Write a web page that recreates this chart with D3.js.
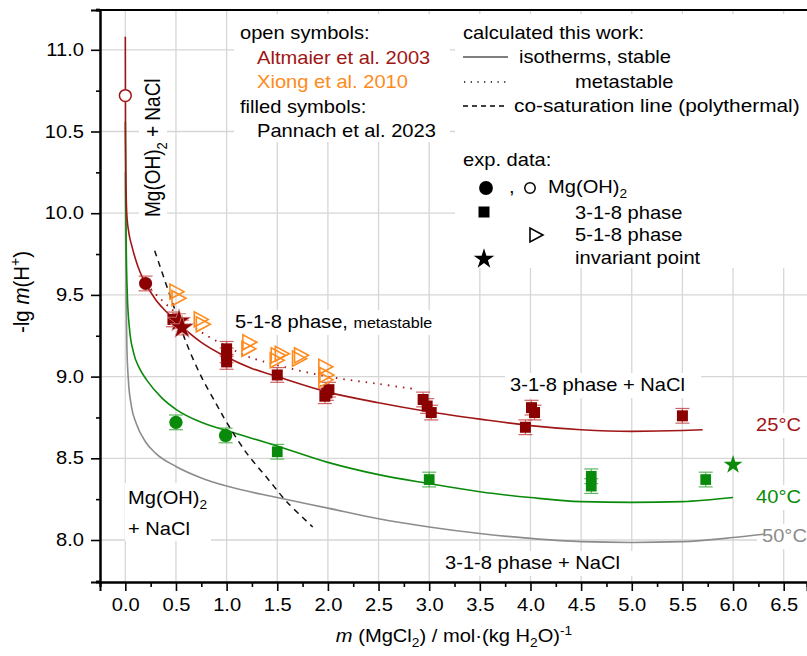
<!DOCTYPE html>
<html><head><meta charset="utf-8">
<script src="https://cdn.jsdelivr.net/npm/d3@7"></script>
<style>
html,body{margin:0;padding:0;background:#fff;}
svg{display:block;font-family:"Liberation Sans",Arial,sans-serif;}
</style></head>
<body><svg id="c" width="807" height="656"></svg>
<script>
// ---------- data ----------
const xTicks = [0,0.5,1,1.5,2,2.5,3,3.5,4,4.5,5,5.5,6,6.5];
const yTicks = [8.0,8.5,9.0,9.5,10.0,10.5,11.0];
const xMinor = d3.range(-0.25, 6.8, 0.5);
const yMinor = d3.range(7.75, 11.3, 0.5);

// calculated isotherms (stable)
const iso25 = [[0,11.08],[0.002,10.5],[0.006,10.2],[0.014,10.0],[0.035,9.88],[0.064,9.8],[0.1,9.72],[0.145,9.64],[0.2,9.57],[0.3,9.47],[0.4,9.40],[0.5,9.34],[0.75,9.21],[1.0,9.12],[1.25,9.05],[1.5,9.0],[2.0,8.905],[2.5,8.84],[3.0,8.785],[3.5,8.74],[4.0,8.70],[4.5,8.675],[5.0,8.665],[5.5,8.67],[5.7,8.675]];
const iso40 = [[0,10.56],[0.004,10.1],[0.01,9.75],[0.02,9.5],[0.04,9.3],[0.08,9.15],[0.14,9.05],[0.21,8.98],[0.36,8.87],[0.5,8.80],[0.75,8.72],[1.0,8.67],[1.5,8.575],[2.0,8.475],[2.5,8.40],[3.0,8.345],[3.5,8.295],[4.0,8.26],[4.5,8.235],[5.0,8.23],[5.5,8.235],[6.0,8.26]];
const iso50 = [[0,10.25],[0.003,9.9],[0.008,9.5],[0.015,9.2],[0.03,8.98],[0.06,8.82],[0.11,8.71],[0.2,8.6],[0.3,8.53],[0.5,8.45],[0.75,8.38],[1.0,8.33],[1.5,8.26],[2.0,8.195],[2.5,8.13],[3.0,8.08],[3.5,8.04],[4.0,8.01],[4.5,7.99],[5.0,7.985],[5.5,7.99],[6.0,8.015],[6.3,8.035]];
// metastable 5-1-8 (25 °C)
const meta25 = [[0.2,9.57],[0.34,9.48],[0.5,9.39],[0.73,9.28],[1.0,9.185],[1.2,9.125],[1.5,9.07],[2.0,9.0],[2.5,8.955],[2.85,8.925]];
// co-saturation line (polythermal)
const cosat = [[0.29,9.77],[0.4,9.57],[0.5,9.39],[0.6,9.21],[0.75,9.0],[0.9,8.83],[1.0,8.72],[1.2,8.53],[1.4,8.38],[1.6,8.23],[1.85,8.08]];

// experimental data
const altmaierOH = [[0.0,10.72]];
const pannachOH25 = [[0.2,9.57]];
const pannachOH40 = [[0.5,8.72],[0.99,8.64]];
const pannach318_25 = [[0.47,9.35],[1.0,9.17],[1.0,9.13],[1.0,9.09],[1.5,9.01],[1.97,8.88],[1.99,8.90],[2.01,8.92],[2.94,8.86],[2.98,8.82],[3.02,8.78],[3.95,8.69],[4.01,8.81],[4.04,8.78],[5.5,8.76]];
const pannach318_40 = [[1.5,8.54],[3.0,8.37],[4.6,8.39],[4.6,8.33],[5.73,8.37]];
const invariant25 = [[0.53,9.34],[0.56,9.30]];
const invariant40 = [[6.0,8.46]];
const xiong518 = [[0.5,9.52],[0.52,9.48],[0.74,9.35],[0.76,9.32],[1.22,9.21],[1.21,9.17],[1.5,9.13],[1.54,9.14],[1.49,9.10],[1.73,9.13],[1.71,9.11],[1.97,9.06],[1.98,9.01],[1.97,8.98]];
const errY = 0.045;

// ---------- colors ----------
const RED = "#8b0000", REDL = "#a01515", GREEN = "#0a8a0a", GRAY = "#8c8c8c", ORANGE = "#ff8a1c";
const FS = 17.5, SX = 1.15;

const svg = d3.select("#c");
const x = d3.scaleLinear().domain([-0.25, 6.73]).range([100, 807]);
const y = d3.scaleLinear().domain([7.743, 11.2436]).range([582, 10]);

// text helper
function addText(parent, px, py, parts, o = {}) {
  const size = o.size || FS;
  const t = parent.append("text")
    .attr("transform", o.transform || `translate(${px},${py}) scale(${o.sx || SX},1)`)
    .attr("font-size", size)
    .attr("fill", o.fill || "#000")
    .attr("text-anchor", o.anchor || "start");
  let shift = 0;
  parts.forEach(p => {
    if (typeof p === "string") p = { t: p };
    const s = p.size || size;
    const ts = t.append("tspan").text(p.t);
    let target = 0, fsz = s;
    if (p.sub) { target = 0.3 * size; fsz = size * 0.68; }
    if (p.sup) { target = -0.4 * size; fsz = size * 0.68; }
    ts.attr("font-size", fsz);
    if (target !== shift) { ts.attr("dy", target - shift); shift = target; }
    if (p.it) ts.attr("font-style", "italic");
  });
  return t;
}

// ---------- grid ----------
const grid = svg.append("g").attr("stroke", "#d6d6d6").attr("stroke-width", 1.3);
xTicks.forEach(v => grid.append("line").attr("x1", x(v)).attr("x2", x(v)).attr("y1", 10).attr("y2", 582));
yTicks.forEach(v => grid.append("line").attr("x1", 100).attr("x2", 807).attr("y1", y(v)).attr("y2", y(v)));

// ---------- white label backgrounds ----------
const bg = svg.append("g").attr("fill", "#fff");
[[234,14,216,128],[455,14,352,254],[139,62,28,158],[230,310,206,25],[505,373,196,25],
 [752,413,55,25],[752,485,55,25],[757,524,50,25],[125,483,86,58],[440,551,205,25]]
 .forEach(r => bg.append("rect").attr("x", r[0]).attr("y", r[1]).attr("width", r[2]).attr("height", r[3]));

// ---------- curves ----------
const smooth = d3.line().x(d => x(d[0])).y(d => y(d[1])).curve(d3.curveMonotoneX);
const line = d3.line().x(d => x(d[0])).y(d => y(d[1])).curve(d3.curveCatmullRom.alpha(0.5));
const cg = svg.append("g").attr("fill", "none");
cg.append("path").datum(iso50).attr("d", smooth).attr("stroke", GRAY).attr("stroke-width", 1.6);
cg.append("path").datum(iso40).attr("d", smooth).attr("stroke", GREEN).attr("stroke-width", 1.6);
cg.append("path").datum(iso25).attr("d", smooth).attr("stroke", REDL).attr("stroke-width", 1.6);
cg.append("path").datum(meta25).attr("d", line).attr("stroke", REDL).attr("stroke-width", 1.8).attr("stroke-dasharray", "1.5,6");
cg.append("path").datum(cosat).attr("d", line).attr("stroke", "#111").attr("stroke-width", 1.5).attr("stroke-dasharray", "6,5");

// ---------- error bars ----------
function errbars(data, color) {
  const g = svg.append("g").attr("stroke", color).attr("stroke-width", 1.2).attr("opacity", 0.75);
  data.forEach(d => {
    const cx = x(d[0]), y1 = y(d[1] + errY), y2 = y(d[1] - errY);
    g.append("line").attr("x1", cx).attr("x2", cx).attr("y1", y1).attr("y2", y2);
    g.append("line").attr("x1", cx - 7).attr("x2", cx + 7).attr("y1", y1).attr("y2", y1);
    g.append("line").attr("x1", cx - 7).attr("x2", cx + 7).attr("y1", y2).attr("y2", y2);
  });
}
errbars(pannachOH25, "#c03030");
errbars(pannachOH40, "#2aa02a");
errbars(pannach318_25, "#c03030");
errbars(pannach318_40, "#2aa02a");
errbars(invariant25, "#d06060");

// ---------- markers ----------
const sym = (type, size) => d3.symbol().type(type).size(size)();
function marks(data, path, fill, stroke, sw) {
  svg.append("g").selectAll("path").data(data).join("path")
    .attr("d", path).attr("transform", d => `translate(${x(d[0])},${y(d[1])})`)
    .attr("fill", fill).attr("stroke", stroke || "none").attr("stroke-width", sw || 0);
}
const triPath = "M-6,-7.5L-6,7.5L8,0Z";
marks(pannach318_25, sym(d3.symbolSquare, 121), RED);
marks(xiong518, triPath, "none", ORANGE, 1.6);
marks(pannachOH25, sym(d3.symbolCircle, 135), RED);
marks(altmaierOH, sym(d3.symbolCircle, 110), "#fff", "#a01515", 1.5);
marks(invariant25, sym(d3.symbolStar, 170), RED, "#e8b0b0", 0.6);
marks(pannachOH40, sym(d3.symbolCircle, 140), GREEN);
marks(pannach318_40, sym(d3.symbolSquare, 115), GREEN);
marks(invariant40, sym(d3.symbolStar, 110), GREEN);

// ---------- axes ----------
const ax = svg.append("g");
ax.append("line").attr("x1", 100).attr("x2", 807).attr("y1", 10).attr("y2", 10).attr("stroke", "#000").attr("stroke-width", 2);
const yAxisMinor = d3.axisLeft(y).tickValues(yMinor).tickSize(4).tickFormat("");
const yAxis = d3.axisLeft(y).tickValues(yTicks).tickSize(9).tickPadding(6).tickFormat(d3.format(".1f"));
const xAxisMinor = d3.axisBottom(x).tickValues(xMinor).tickSize(5).tickFormat("");
const xAxis = d3.axisBottom(x).tickValues(xTicks).tickSize(9).tickPadding(8).tickFormat(d3.format(".1f"));
function styleAxis(g) {
  g.select(".domain").attr("stroke", "#000").attr("stroke-width", 2);
  g.selectAll(".tick line").attr("stroke", "#000").attr("stroke-width", 1.6);
  g.selectAll("text").attr("font-size", FS).attr("font-family", "'Liberation Sans',Arial,sans-serif").attr("fill", "#000");
}
ax.append("g").attr("transform", "translate(100,0)").call(yAxisMinor).call(styleAxis);
const gy = ax.append("g").attr("transform", "translate(100,0)").call(yAxis).call(styleAxis);
gy.selectAll("text").attr("x", -16 / SX).attr("transform", `scale(${SX},1)`);
ax.append("g").attr("transform", "translate(0,582)").call(xAxisMinor).call(styleAxis);
const gx = ax.append("g").attr("transform", "translate(0,582)").call(xAxis).call(styleAxis);
gx.selectAll("text").attr("transform", `scale(${SX},1)`);

// axis titles
addText(svg, 454, 642, [{t:"m", it:true}, " (MgCl", {t:"2", sub:true}, ") / mol·(kg H", {t:"2", sub:true}, "O)", {t:"-1", sup:true}], {anchor:"middle"});
addText(svg, 0, 0, ["-lg ", {t:"m", it:true}, "(H", {t:"+", sup:true}, ")"], {anchor:"middle", transform:"translate(29,292) rotate(-90) scale(1,1.1)", size:20.5});

// ---------- legends ----------
const L = svg.append("g");
addText(L, 240, 39, ["open symbols:"]);
addText(L, 257, 63.5, ["Altmaier et al. 2003"], {fill:"#a01515"});
addText(L, 257, 88, ["Xiong et al. 2010"], {fill:ORANGE});
addText(L, 240, 112.5, ["filled symbols:"]);
addText(L, 257, 137, ["Pannach et al. 2023"]);

addText(L, 463, 39, ["calculated this work:"]);
L.append("line").attr("x1", 463).attr("x2", 508).attr("y1", 57).attr("y2", 57).attr("stroke", "#000").attr("stroke-width", 1.2);
addText(L, 519, 63, ["isotherms, stable"]);
L.append("line").attr("x1", 464).attr("x2", 508).attr("y1", 82).attr("y2", 82).attr("stroke", "#000").attr("stroke-width", 1.3).attr("stroke-dasharray", "1.2,5.5");
addText(L, 575, 88, ["metastable"]);
L.append("line").attr("x1", 463).attr("x2", 506).attr("y1", 106).attr("y2", 106).attr("stroke", "#000").attr("stroke-width", 1.3).attr("stroke-dasharray", "5,4");
addText(L, 514, 112, ["co-saturation line (polythermal)"], {sx:1.19});
addText(L, 463, 166, ["exp. data:"]);
L.append("path").attr("d", sym(d3.symbolCircle, 150)).attr("transform", "translate(486,188)").attr("fill", "#000");
addText(L, 509, 193, [","]);
L.append("path").attr("d", sym(d3.symbolCircle, 85)).attr("transform", "translate(530,188)").attr("fill", "none").attr("stroke", "#000").attr("stroke-width", 1.5);
addText(L, 548, 193, ["Mg(OH)", {t:"2", sub:true}]);
L.append("path").attr("d", sym(d3.symbolSquare, 121)).attr("transform", "translate(484,212)").attr("fill", "#000");
addText(L, 575, 219, ["3-1-8 phase"]);
L.append("path").attr("d", "M-5,-7L-5,7L8,0Z").attr("transform", "translate(535,235)").attr("fill", "none").attr("stroke", "#000").attr("stroke-width", 1.6);
addText(L, 575, 241, ["5-1-8 phase"]);
L.append("path").attr("d", sym(d3.symbolStar, 130)).attr("transform", "translate(484,259)").attr("fill", "#000");
addText(L, 575, 264, ["invariant point"]);

// ---------- region annotations ----------
addText(svg, 0, 0, ["Mg(OH)", {t:"2", sub:true}, " + NaCl"], {transform:"translate(160,217) rotate(-90) scale(1,1.15)", size:19});
addText(svg, 235, 328, ["5-1-8 phase, ", {t:"metastable", size:14}]);
addText(svg, 510, 391, ["3-1-8 phase + NaCl"]);
addText(svg, 801, 431, ["25°C"], {anchor:"end", fill:"#a01515"});
addText(svg, 801, 503, ["40°C"], {anchor:"end", fill:GREEN});
addText(svg, 762, 542, ["50°C"], {fill:GRAY});
addText(svg, 128, 504, ["Mg(OH)", {t:"2", sub:true}]);
addText(svg, 128, 535, ["+ NaCl"]);
addText(svg, 445, 569, ["3-1-8 phase + NaCl"]);
</script></body></html>
